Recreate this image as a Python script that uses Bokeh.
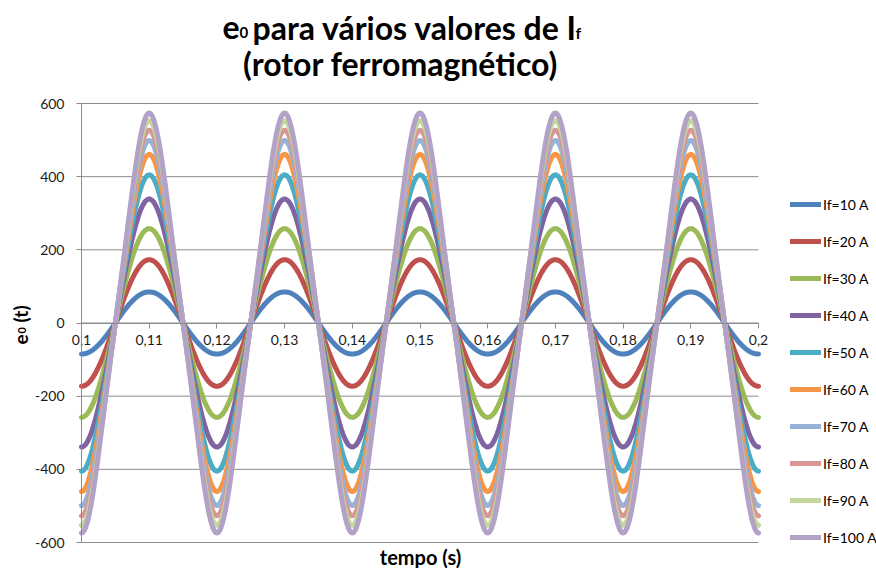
import numpy as np
from bokeh.plotting import figure
from bokeh.models import (ColumnDataSource, FixedTicker, CustomJSTickFormatter,
                          Legend, LegendItem, Label, Range1d)
from bokeh.embed import file_html
from bokeh.resources import INLINE

# Field currents and the resulting EMF waveforms e0(t) = -(E1 cos wt + E3 cos 3wt)
series_names = ["If=10 A", "If=20 A", "If=30 A", "If=40 A", "If=50 A",
                "If=60 A", "If=70 A", "If=80 A", "If=90 A", "If=100 A"]
peak_emf = [85, 173, 258, 339, 405, 461, 499, 527, 553, 574]          # V
third_harmonic_ratio = [0.0, 0.005, 0.01, 0.02, 0.03, 0.04, 0.045, 0.05, 0.055, 0.06]
frequency = 50.0                                                   # Hz
t_start, t_end, t_step = 0.1, 0.2, 0.0002

colors = ["#4F81BD", "#C0504D", "#9BBB59", "#8064A2", "#4BACC6",
          "#F79646", "#95B3D7", "#D99694", "#C3D69B", "#B3A2C7"]

x_ticks = [0.10, 0.11, 0.12, 0.13, 0.14, 0.15, 0.16, 0.17, 0.18, 0.19, 0.20]
y_ticks = [-600, -400, -200, 0, 200, 400, 600]
y_min, y_max = -600, 600

FONT = "Lato"
W, H = 876, 568
# pixel box of the plotting area inside the canvas
BOX_L, BOX_R, BOX_T, BOX_B = 81, 758, 103, 542

# the frame covers the whole canvas; ranges are widened so that the
# plotting area lands on the box above
sx = (BOX_R - BOX_L) / (t_end - t_start)
sy = (BOX_B - BOX_T) / (y_max - y_min)
x_range = Range1d(t_start - BOX_L / sx, t_end + (W - BOX_R) / sx)
y_range = Range1d(y_min - (H - BOX_B) / sy, y_max + BOX_T / sy)

p = figure(width=W, height=H, output_backend="svg", toolbar_location=None,
           x_range=x_range, y_range=y_range, min_border=0)
p.outline_line_color = None
p.background_fill_color = "white"
p.border_fill_color = "white"
p.xgrid.visible = False
p.ygrid.visible = False

# horizontal gridlines across the plotting area
p.segment(x0=[t_start] * len(y_ticks), x1=[t_end] * len(y_ticks),
          y0=y_ticks, y1=y_ticks, line_color="#8c8c8c", line_width=1)

t = np.arange(t_start, t_end + t_step / 2, t_step)
w = 2 * np.pi * frequency
renderers = []
for name, pk, h3, c in zip(series_names, peak_emf, third_harmonic_ratio, colors):
    e1 = pk / (1 + h3)
    e3 = pk * h3 / (1 + h3)
    e = -(e1 * np.cos(w * t) + e3 * np.cos(3 * w * t))
    src = ColumnDataSource(dict(t=t, e=e))
    r = p.line("t", "e", source=src, line_color=c, line_width=5,
               line_join="round", line_cap="round")
    renderers.append((name, r))

# axes: x axis drawn on e0 = 0, y axis on t = t_start
xa = p.xaxis[0]
xa.fixed_location = 0
xa.bounds = (t_start, t_end)
xa.ticker = FixedTicker(ticks=x_ticks)
xa.formatter = CustomJSTickFormatter(
    code="return tick.toFixed(2).replace(/0$/, '').replace('.', ',');")
xa.axis_line_color = "#8c8c8c"
xa.major_tick_line_color = "#8c8c8c"
xa.major_tick_out = 5
xa.major_tick_in = 0
xa.minor_tick_line_color = None
xa.major_label_text_font = FONT
xa.major_label_text_font_size = "14px"
xa.major_label_text_color = "#1a1a1a"
xa.major_label_standoff = 7

ya = p.yaxis[0]
ya.fixed_location = t_start
ya.bounds = (y_min, y_max)
ya.ticker = FixedTicker(ticks=y_ticks)
ya.formatter = CustomJSTickFormatter(code="return String(tick);")
ya.axis_line_color = "#8c8c8c"
ya.major_tick_line_color = "#8c8c8c"
ya.major_tick_out = 5
ya.major_tick_in = 0
ya.minor_tick_line_color = None
ya.major_label_text_font = FONT
ya.major_label_text_font_size = "14px"
ya.major_label_text_color = "#1a1a1a"
ya.major_label_standoff = 12


def drop(size):
    """How far below the anchor a label's baseline ends up, in pixels."""
    return 0.5 * size - 4.5


def place(text, cx, cy, size, align="left"):
    """Bold label whose baseline sits at canvas pixel row cy."""
    p.add_layout(Label(x=cx, y=H - (cy - drop(size)), x_units="screen",
                       y_units="screen", text=text, text_font=FONT,
                       text_font_size=f"{size}px", text_font_style="bold",
                       text_align=align, text_baseline="alphabetic",
                       text_color="black"))


def place_up(text, bx, cy, size):
    """Bold label reading upwards, baseline on canvas column bx, starting at row cy."""
    p.add_layout(Label(x=bx - drop(size), y=H - cy, x_units="screen",
                       y_units="screen", text=text, text_font=FONT,
                       text_font_size=f"{size}px", text_font_style="bold",
                       text_align="left", text_baseline="alphabetic",
                       text_color="black", angle=np.pi / 2))


# title, two lines, with small-size indices on e0 and If
place("e", 222, 38, 32)
place("0", 239, 35, 15)
place("para vários valores de", 252, 38, 32)
place("I", 566, 38, 32)
place("f", 575, 35, 16)
place("(rotor ferromagnético)", 400, 74, 32, align="center")

# axis titles
place("tempo (s)", 420, 562, 20, align="center")
place_up("e", 25, 344, 19)
place_up("0", 22, 333, 11)
place_up("(t)", 25, 322, 19)

legend = Legend(items=[LegendItem(label=n, renderers=[r]) for n, r in renderers],
                location=(790, H - 547), orientation="vertical",
                label_text_font=FONT, label_text_font_size="14px",
                label_text_color="black", glyph_width=31, glyph_height=20,
                label_height=20, label_standoff=2, spacing=17,
                padding=0, margin=0, border_line_color=None,
                background_fill_alpha=0)
p.add_layout(legend)

open("out.html", "w").write(file_html(p, INLINE))
